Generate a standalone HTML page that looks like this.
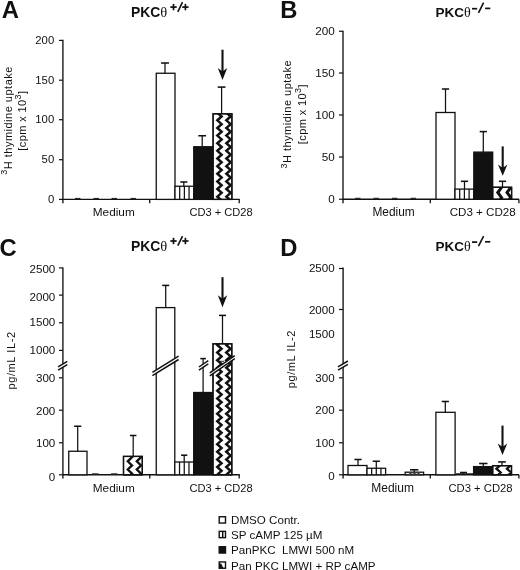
<!DOCTYPE html>
<html><head><meta charset="utf-8"><title>Figure</title>
<style>
html,body{margin:0;padding:0;background:#fff;}
body{width:520px;height:570px;overflow:hidden;}
svg{display:block;font-family:'Liberation Sans',sans-serif;will-change:transform;filter:grayscale(1);}
svg text{font-family:'Liberation Sans',sans-serif;}
</style></head>
<body>
<svg width="520" height="570" viewBox="0 0 520 570">
<defs>
<clipPath id="c1"><rect x="213.10" y="113.80" width="18.80" height="85.60"/></clipPath>
<clipPath id="c2"><rect x="492.70" y="187.30" width="18.90" height="11.95"/></clipPath>
<clipPath id="c3"><rect x="123.50" y="456.40" width="18.80" height="18.40"/></clipPath>
<clipPath id="c4"><rect x="213.00" y="343.80" width="18.80" height="131.00"/></clipPath>
<clipPath id="c5"><rect x="492.70" y="465.70" width="18.80" height="9.10"/></clipPath>
</defs>
<rect x="0" y="0" width="520" height="570" fill="#fff"/>
<text x="1.7" y="17.6" font-size="23.8" text-anchor="start" font-weight="bold" fill="#111" >A</text>
<text x="130.9" y="16.9" font-size="13.9" font-weight="bold" fill="#111">PKC<tspan font-family="Liberation Serif" font-weight="normal" font-size="14.5">θ</tspan></text>
<line x1="170.30" y1="7.10" x2="176.70" y2="7.10" stroke="#111" stroke-width="1.7" stroke-linecap="butt"/>
<line x1="173.50" y1="3.90" x2="173.50" y2="10.30" stroke="#111" stroke-width="1.7" stroke-linecap="butt"/>
<line x1="182.20" y1="7.10" x2="188.60" y2="7.10" stroke="#111" stroke-width="1.7" stroke-linecap="butt"/>
<line x1="185.40" y1="3.90" x2="185.40" y2="10.30" stroke="#111" stroke-width="1.7" stroke-linecap="butt"/>
<line x1="177.80" y1="11.80" x2="182.50" y2="2.20" stroke="#111" stroke-width="1.6" stroke-linecap="butt"/>
<line x1="62.9" y1="39.8" x2="62.9" y2="203.3" stroke="#111" stroke-width="1.35" stroke-linecap="butt"/>
<line x1="59.0" y1="40.4" x2="62.9" y2="40.4" stroke="#111" stroke-width="1.2" stroke-linecap="butt"/>
<text x="54.2" y="43.90" font-size="11.3" text-anchor="end" font-weight="normal" fill="#111" >200</text>
<line x1="59.0" y1="80.2" x2="62.9" y2="80.2" stroke="#111" stroke-width="1.2" stroke-linecap="butt"/>
<text x="54.2" y="83.70" font-size="11.3" text-anchor="end" font-weight="normal" fill="#111" >150</text>
<line x1="59.0" y1="119.7" x2="62.9" y2="119.7" stroke="#111" stroke-width="1.2" stroke-linecap="butt"/>
<text x="54.2" y="123.20" font-size="11.3" text-anchor="end" font-weight="normal" fill="#111" >100</text>
<line x1="59.0" y1="159.7" x2="62.9" y2="159.7" stroke="#111" stroke-width="1.2" stroke-linecap="butt"/>
<text x="54.2" y="163.20" font-size="11.3" text-anchor="end" font-weight="normal" fill="#111" >50</text>
<line x1="59.0" y1="199.4" x2="62.9" y2="199.4" stroke="#111" stroke-width="1.2" stroke-linecap="butt"/>
<text x="54.2" y="202.90" font-size="11.3" text-anchor="end" font-weight="normal" fill="#111" >0</text>
<line x1="62.9" y1="199.4" x2="239.8" y2="199.4" stroke="#111" stroke-width="1.4" stroke-linecap="butt"/>
<line x1="149.7" y1="199.4" x2="149.7" y2="203.3" stroke="#111" stroke-width="1.3" stroke-linecap="butt"/>
<line x1="239.2" y1="199.4" x2="239.2" y2="203.3" stroke="#111" stroke-width="1.3" stroke-linecap="butt"/>
<text transform="translate(11.8,174.8) rotate(-90)" font-size="11.0" letter-spacing="0.5" fill="#111"><tspan font-size="9" dy="-4.7">3</tspan><tspan dy="4.7">H thymidine uptake</tspan></text>
<text transform="translate(25.5,150.7) rotate(-90)" font-size="11.0" letter-spacing="0.4" fill="#111">[cpm x 10<tspan font-size="9" dy="-4.7">3</tspan><tspan dy="4.7">]</tspan></text>
<line x1="75" y1="198.5" x2="80.5" y2="198.5" stroke="#2a2a2a" stroke-width="1.2" stroke-linecap="butt"/>
<line x1="93.5" y1="198.5" x2="99.0" y2="198.5" stroke="#2a2a2a" stroke-width="1.2" stroke-linecap="butt"/>
<line x1="111.5" y1="198.5" x2="117.0" y2="198.5" stroke="#2a2a2a" stroke-width="1.2" stroke-linecap="butt"/>
<line x1="130.5" y1="198.5" x2="136.0" y2="198.5" stroke="#2a2a2a" stroke-width="1.2" stroke-linecap="butt"/>
<rect x="156.25" y="73.25" width="18.75" height="126.15" fill="#fff" stroke="#111" stroke-width="1.3"/>
<line x1="165.0" y1="63.0" x2="165.0" y2="73.25" stroke="#111" stroke-width="1.25" stroke-linecap="butt"/>
<line x1="161.05" y1="63.0" x2="168.95" y2="63.0" stroke="#111" stroke-width="1.55" stroke-linecap="butt"/>
<rect x="175.00" y="186.25" width="18.75" height="13.15" fill="#fff" stroke="#111" stroke-width="1.3"/>
<line x1="179.69" y1="186.25" x2="179.69" y2="199.4" stroke="#111" stroke-width="1.25" stroke-linecap="butt"/>
<line x1="184.38" y1="186.25" x2="184.38" y2="199.4" stroke="#111" stroke-width="1.25" stroke-linecap="butt"/>
<line x1="189.06" y1="186.25" x2="189.06" y2="199.4" stroke="#111" stroke-width="1.25" stroke-linecap="butt"/>
<line x1="183.8" y1="182" x2="183.8" y2="186.25" stroke="#111" stroke-width="1.25" stroke-linecap="butt"/>
<line x1="180.3" y1="182" x2="187.3" y2="182" stroke="#111" stroke-width="1.55" stroke-linecap="butt"/>
<rect x="193.75" y="146.75" width="19.35" height="52.65" fill="#111" stroke="#111" stroke-width="1.3"/>
<line x1="202.2" y1="135.75" x2="202.2" y2="146.75" stroke="#111" stroke-width="1.25" stroke-linecap="butt"/>
<line x1="198.29999999999998" y1="135.75" x2="206.1" y2="135.75" stroke="#111" stroke-width="1.55" stroke-linecap="butt"/>
<rect x="213.10" y="113.80" width="18.80" height="85.60" fill="#fff" stroke="#111" stroke-width="1.3"/>
<polyline clip-path="url(#c1)" points="217.34,211.91 221.64,208.09 217.34,204.28 221.64,200.47 217.34,196.65 221.64,192.84 217.34,189.02 221.64,185.21 217.34,181.39 221.64,177.58 217.34,173.76 221.64,169.95 217.34,166.13 221.64,162.32 217.34,158.50 221.64,154.69 217.34,150.87 221.64,147.06 217.34,143.24 221.64,139.43 217.34,135.61 221.64,131.80 217.34,127.98 221.64,124.17 217.34,120.35 221.64,116.54 217.34,112.72 221.64,108.91" fill="none" stroke="#111" stroke-width="2.5" stroke-linejoin="miter"/>
<polyline clip-path="url(#c1)" points="226.37,211.91 230.67,208.09 226.37,204.28 230.67,200.47 226.37,196.65 230.67,192.84 226.37,189.02 230.67,185.21 226.37,181.39 230.67,177.58 226.37,173.76 230.67,169.95 226.37,166.13 230.67,162.32 226.37,158.50 230.67,154.69 226.37,150.87 230.67,147.06 226.37,143.24 230.67,139.43 226.37,135.61 230.67,131.80 226.37,127.98 230.67,124.17 226.37,120.35 230.67,116.54 226.37,112.72 230.67,108.91" fill="none" stroke="#111" stroke-width="2.5" stroke-linejoin="miter"/>
<rect x="213.10" y="113.80" width="18.80" height="85.60" fill="none" stroke="#111" stroke-width="1.3"/>
<line x1="221.6" y1="87.1" x2="221.6" y2="113.75" stroke="#111" stroke-width="1.25" stroke-linecap="butt"/>
<line x1="217.7" y1="87.1" x2="225.5" y2="87.1" stroke="#111" stroke-width="1.55" stroke-linecap="butt"/>
<line x1="222.5" y1="49.7" x2="222.5" y2="72.0" stroke="#111" stroke-width="2.1" stroke-linecap="butt"/>
<path d="M217.8,68.0 L221.5,70.8 L223.5,70.8 L227.2,68.0 L222.5,80.1 Z" fill="#111"/>
<text x="113.75" y="215.6" font-size="11.8" text-anchor="middle" font-weight="normal" fill="#111" >Medium</text>
<text x="221.1" y="215.6" font-size="11.1" text-anchor="middle" font-weight="normal" fill="#111" >CD3 + CD28</text>
<text x="280.3" y="17.8" font-size="23.8" text-anchor="start" font-weight="bold" fill="#111" >B</text>
<text x="435.4" y="17.3" font-size="13.5" font-weight="bold" fill="#111">PKC<tspan font-family="Liberation Serif" font-weight="normal" font-size="14.1">θ</tspan></text>
<line x1="472.00" y1="8.70" x2="477.20" y2="8.70" stroke="#111" stroke-width="1.7" stroke-linecap="butt"/>
<line x1="485.10" y1="8.40" x2="490.30" y2="8.40" stroke="#111" stroke-width="1.7" stroke-linecap="butt"/>
<line x1="478.50" y1="12.80" x2="483.60" y2="2.70" stroke="#111" stroke-width="1.6" stroke-linecap="butt"/>
<line x1="343.0" y1="30.7" x2="343.0" y2="203.3" stroke="#111" stroke-width="1.35" stroke-linecap="butt"/>
<line x1="339.0" y1="31.25" x2="343.0" y2="31.25" stroke="#111" stroke-width="1.2" stroke-linecap="butt"/>
<text x="334.8" y="35.15" font-size="11.7" text-anchor="end" font-weight="normal" fill="#111" >200</text>
<line x1="339.0" y1="73" x2="343.0" y2="73" stroke="#111" stroke-width="1.2" stroke-linecap="butt"/>
<text x="334.8" y="76.90" font-size="11.7" text-anchor="end" font-weight="normal" fill="#111" >150</text>
<line x1="339.0" y1="115" x2="343.0" y2="115" stroke="#111" stroke-width="1.2" stroke-linecap="butt"/>
<text x="334.8" y="118.90" font-size="11.7" text-anchor="end" font-weight="normal" fill="#111" >100</text>
<line x1="339.0" y1="157" x2="343.0" y2="157" stroke="#111" stroke-width="1.2" stroke-linecap="butt"/>
<text x="334.8" y="160.90" font-size="11.7" text-anchor="end" font-weight="normal" fill="#111" >50</text>
<line x1="339.0" y1="199.25" x2="343.0" y2="199.25" stroke="#111" stroke-width="1.2" stroke-linecap="butt"/>
<text x="334.8" y="203.15" font-size="11.7" text-anchor="end" font-weight="normal" fill="#111" >0</text>
<line x1="343.0" y1="199.25" x2="519" y2="199.25" stroke="#111" stroke-width="1.4" stroke-linecap="butt"/>
<line x1="430.3" y1="199.25" x2="430.3" y2="203.3" stroke="#111" stroke-width="1.3" stroke-linecap="butt"/>
<line x1="518.9" y1="199.25" x2="518.9" y2="203.3" stroke="#111" stroke-width="1.3" stroke-linecap="butt"/>
<text transform="translate(291.2,168.6) rotate(-90)" font-size="11.0" letter-spacing="0.5" fill="#111"><tspan font-size="9" dy="-4.7">3</tspan><tspan dy="4.7">H thymidine uptake</tspan></text>
<text transform="translate(305.5,144.2) rotate(-90)" font-size="11.0" letter-spacing="0.4" fill="#111">[cpm x 10<tspan font-size="9" dy="-4.7">3</tspan><tspan dy="4.7">]</tspan></text>
<line x1="355" y1="198.35" x2="360.5" y2="198.35" stroke="#2a2a2a" stroke-width="1.2" stroke-linecap="butt"/>
<line x1="373.5" y1="198.35" x2="379.0" y2="198.35" stroke="#2a2a2a" stroke-width="1.2" stroke-linecap="butt"/>
<line x1="392" y1="198.35" x2="397.5" y2="198.35" stroke="#2a2a2a" stroke-width="1.2" stroke-linecap="butt"/>
<line x1="410.5" y1="198.35" x2="416.0" y2="198.35" stroke="#2a2a2a" stroke-width="1.2" stroke-linecap="butt"/>
<rect x="436.00" y="112.50" width="19.00" height="86.75" fill="#fff" stroke="#111" stroke-width="1.3"/>
<line x1="445.5" y1="89" x2="445.5" y2="112.5" stroke="#111" stroke-width="1.25" stroke-linecap="butt"/>
<line x1="441.9" y1="89" x2="449.1" y2="89" stroke="#111" stroke-width="1.55" stroke-linecap="butt"/>
<rect x="455.00" y="189.10" width="18.80" height="10.15" fill="#fff" stroke="#111" stroke-width="1.3"/>
<line x1="459.70" y1="189.10" x2="459.70" y2="199.25" stroke="#111" stroke-width="1.25" stroke-linecap="butt"/>
<line x1="464.40" y1="189.10" x2="464.40" y2="199.25" stroke="#111" stroke-width="1.25" stroke-linecap="butt"/>
<line x1="469.10" y1="189.10" x2="469.10" y2="199.25" stroke="#111" stroke-width="1.25" stroke-linecap="butt"/>
<line x1="464.5" y1="181.3" x2="464.5" y2="189.1" stroke="#111" stroke-width="1.25" stroke-linecap="butt"/>
<line x1="460.9" y1="181.3" x2="468.1" y2="181.3" stroke="#111" stroke-width="1.55" stroke-linecap="butt"/>
<rect x="473.80" y="152.10" width="18.90" height="47.15" fill="#111" stroke="#111" stroke-width="1.3"/>
<line x1="483.3" y1="131.6" x2="483.3" y2="152.1" stroke="#111" stroke-width="1.25" stroke-linecap="butt"/>
<line x1="479.7" y1="131.6" x2="486.90000000000003" y2="131.6" stroke="#111" stroke-width="1.55" stroke-linecap="butt"/>
<rect x="492.70" y="187.30" width="18.90" height="11.95" fill="#fff" stroke="#111" stroke-width="1.3"/>
<polyline clip-path="url(#c2)" points="497.79,213.30 501.59,208.10 497.79,202.90 501.59,197.70 497.79,192.50 501.59,187.30 497.79,182.10 501.59,176.90" fill="none" stroke="#111" stroke-width="3.0" stroke-linejoin="miter"/>
<polyline clip-path="url(#c2)" points="507.05,213.30 510.85,208.10 507.05,202.90 510.85,197.70 507.05,192.50 510.85,187.30 507.05,182.10 510.85,176.90" fill="none" stroke="#111" stroke-width="3.0" stroke-linejoin="miter"/>
<rect x="492.70" y="187.30" width="18.90" height="11.95" fill="none" stroke="#111" stroke-width="1.3"/>
<line x1="502.5" y1="181.3" x2="502.5" y2="187.2" stroke="#111" stroke-width="1.25" stroke-linecap="butt"/>
<line x1="498.9" y1="181.3" x2="506.1" y2="181.3" stroke="#111" stroke-width="1.55" stroke-linecap="butt"/>
<line x1="502.7" y1="146.4" x2="502.7" y2="168.4" stroke="#111" stroke-width="2.1" stroke-linecap="butt"/>
<path d="M498.0,164.4 L501.7,167.20000000000002 L503.7,167.20000000000002 L507.4,164.4 L502.7,175.8 Z" fill="#111"/>
<text x="393.6" y="215.6" font-size="11.9" text-anchor="middle" font-weight="normal" fill="#111" >Medium</text>
<text x="482.7" y="215.6" font-size="11.6" text-anchor="middle" font-weight="normal" fill="#111" >CD3 + CD28</text>
<text x="-0.5" y="256" font-size="23.8" text-anchor="start" font-weight="bold" fill="#111" >C</text>
<text x="130.9" y="250.8" font-size="13.9" font-weight="bold" fill="#111">PKC<tspan font-family="Liberation Serif" font-weight="normal" font-size="14.5">θ</tspan></text>
<line x1="170.30" y1="241.00" x2="176.70" y2="241.00" stroke="#111" stroke-width="1.7" stroke-linecap="butt"/>
<line x1="173.50" y1="237.80" x2="173.50" y2="244.20" stroke="#111" stroke-width="1.7" stroke-linecap="butt"/>
<line x1="182.20" y1="241.00" x2="188.60" y2="241.00" stroke="#111" stroke-width="1.7" stroke-linecap="butt"/>
<line x1="185.40" y1="237.80" x2="185.40" y2="244.20" stroke="#111" stroke-width="1.7" stroke-linecap="butt"/>
<line x1="177.80" y1="245.70" x2="182.50" y2="236.10" stroke="#111" stroke-width="1.6" stroke-linecap="butt"/>
<line x1="62.9" y1="267.4" x2="62.9" y2="478.5" stroke="#111" stroke-width="1.35" stroke-linecap="butt"/>
<line x1="59.0" y1="267.9" x2="62.9" y2="267.9" stroke="#111" stroke-width="1.2" stroke-linecap="butt"/>
<text x="55.3" y="272.50" font-size="11.6" text-anchor="end" font-weight="normal" fill="#111" >2500</text>
<line x1="59.0" y1="295.1" x2="62.9" y2="295.1" stroke="#111" stroke-width="1.2" stroke-linecap="butt"/>
<text x="55.3" y="301.40" font-size="11.6" text-anchor="end" font-weight="normal" fill="#111" >2000</text>
<line x1="59.0" y1="322.8" x2="62.9" y2="322.8" stroke="#111" stroke-width="1.2" stroke-linecap="butt"/>
<text x="55.3" y="325.50" font-size="11.6" text-anchor="end" font-weight="normal" fill="#111" >1500</text>
<line x1="59.0" y1="350.4" x2="62.9" y2="350.4" stroke="#111" stroke-width="1.2" stroke-linecap="butt"/>
<text x="55.3" y="353.60" font-size="11.6" text-anchor="end" font-weight="normal" fill="#111" >1000</text>
<line x1="59.0" y1="377.8" x2="62.9" y2="377.8" stroke="#111" stroke-width="1.2" stroke-linecap="butt"/>
<text x="55.3" y="381.90" font-size="11.6" text-anchor="end" font-weight="normal" fill="#111" >300</text>
<line x1="59.0" y1="410.2" x2="62.9" y2="410.2" stroke="#111" stroke-width="1.2" stroke-linecap="butt"/>
<text x="55.3" y="414.60" font-size="11.6" text-anchor="end" font-weight="normal" fill="#111" >200</text>
<line x1="59.0" y1="442.8" x2="62.9" y2="442.8" stroke="#111" stroke-width="1.2" stroke-linecap="butt"/>
<text x="55.3" y="447.00" font-size="11.6" text-anchor="end" font-weight="normal" fill="#111" >100</text>
<line x1="59.0" y1="474.8" x2="62.9" y2="474.8" stroke="#111" stroke-width="1.2" stroke-linecap="butt"/>
<text x="55.3" y="480.50" font-size="11.6" text-anchor="end" font-weight="normal" fill="#111" >0</text>
<line x1="62.9" y1="474.8" x2="239.8" y2="474.8" stroke="#111" stroke-width="1.4" stroke-linecap="butt"/>
<line x1="149.8" y1="474.8" x2="149.8" y2="478.5" stroke="#111" stroke-width="1.3" stroke-linecap="butt"/>
<line x1="239.2" y1="474.8" x2="239.2" y2="478.5" stroke="#111" stroke-width="1.3" stroke-linecap="butt"/>
<text transform="translate(14.6,389.5) rotate(-90)" font-size="11.0" letter-spacing="0.6" fill="#111">pg/mL IL-2</text>
<rect x="68.75" y="451.25" width="18.25" height="23.55" fill="#fff" stroke="#111" stroke-width="1.3"/>
<line x1="77.7" y1="426.25" x2="77.7" y2="451.25" stroke="#111" stroke-width="1.25" stroke-linecap="butt"/>
<line x1="74.10000000000001" y1="426.25" x2="81.3" y2="426.25" stroke="#111" stroke-width="1.55" stroke-linecap="butt"/>
<line x1="92" y1="473.90000000000003" x2="98.5" y2="473.90000000000003" stroke="#2a2a2a" stroke-width="1.2" stroke-linecap="butt"/>
<line x1="111" y1="473.90000000000003" x2="117.5" y2="473.90000000000003" stroke="#2a2a2a" stroke-width="1.2" stroke-linecap="butt"/>
<rect x="123.50" y="456.40" width="18.80" height="18.40" fill="#fff" stroke="#111" stroke-width="1.3"/>
<polyline clip-path="url(#c3)" points="127.74,485.90 132.04,481.80 127.74,477.70 132.04,473.60 127.74,469.50 132.04,465.40 127.74,461.30 132.04,457.20 127.74,453.10 132.04,449.00" fill="none" stroke="#111" stroke-width="2.3" stroke-linejoin="miter"/>
<polyline clip-path="url(#c3)" points="136.77,485.90 141.07,481.80 136.77,477.70 141.07,473.60 136.77,469.50 141.07,465.40 136.77,461.30 141.07,457.20 136.77,453.10 141.07,449.00" fill="none" stroke="#111" stroke-width="2.3" stroke-linejoin="miter"/>
<rect x="123.50" y="456.40" width="18.80" height="18.40" fill="none" stroke="#111" stroke-width="1.3"/>
<line x1="133.2" y1="435.5" x2="133.2" y2="456.3" stroke="#111" stroke-width="1.25" stroke-linecap="butt"/>
<line x1="129.95" y1="435.5" x2="136.45" y2="435.5" stroke="#111" stroke-width="1.55" stroke-linecap="butt"/>
<rect x="156.25" y="307.60" width="18.55" height="167.20" fill="#fff" stroke="#111" stroke-width="1.3"/>
<line x1="165.7" y1="285.4" x2="165.7" y2="307.6" stroke="#111" stroke-width="1.25" stroke-linecap="butt"/>
<line x1="162.2" y1="285.4" x2="169.2" y2="285.4" stroke="#111" stroke-width="1.55" stroke-linecap="butt"/>
<rect x="174.80" y="462.00" width="18.90" height="12.80" fill="#fff" stroke="#111" stroke-width="1.3"/>
<line x1="179.53" y1="462.00" x2="179.53" y2="474.8" stroke="#111" stroke-width="1.25" stroke-linecap="butt"/>
<line x1="184.25" y1="462.00" x2="184.25" y2="474.8" stroke="#111" stroke-width="1.25" stroke-linecap="butt"/>
<line x1="188.97" y1="462.00" x2="188.97" y2="474.8" stroke="#111" stroke-width="1.25" stroke-linecap="butt"/>
<line x1="184.2" y1="455.2" x2="184.2" y2="462" stroke="#111" stroke-width="1.25" stroke-linecap="butt"/>
<line x1="181.1" y1="455.2" x2="187.29999999999998" y2="455.2" stroke="#111" stroke-width="1.55" stroke-linecap="butt"/>
<rect x="193.70" y="392.50" width="19.30" height="82.30" fill="#111" stroke="#111" stroke-width="1.3"/>
<line x1="203.1" y1="358.6" x2="203.1" y2="392.5" stroke="#111" stroke-width="1.25" stroke-linecap="butt"/>
<line x1="200.29999999999998" y1="358.6" x2="205.9" y2="358.6" stroke="#111" stroke-width="1.55" stroke-linecap="butt"/>
<rect x="213.00" y="343.80" width="18.80" height="131.00" fill="#fff" stroke="#111" stroke-width="1.3"/>
<polyline clip-path="url(#c4)" points="217.24,489.94 221.54,486.13 217.24,482.31 221.54,478.50 217.24,474.68 221.54,470.87 217.24,467.05 221.54,463.24 217.24,459.42 221.54,455.61 217.24,451.79 221.54,447.98 217.24,444.16 221.54,440.35 217.24,436.53 221.54,432.72 217.24,428.90 221.54,425.09 217.24,421.27 221.54,417.46 217.24,413.64 221.54,409.83 217.24,406.01 221.54,402.20 217.24,398.38 221.54,394.57 217.24,390.75 221.54,386.94 217.24,383.12 221.54,379.31 217.24,375.49 221.54,371.68 217.24,367.86 221.54,364.05 217.24,360.23 221.54,356.42 217.24,352.60 221.54,348.79 217.24,344.97 221.54,341.16 217.24,337.34" fill="none" stroke="#111" stroke-width="2.5" stroke-linejoin="miter"/>
<polyline clip-path="url(#c4)" points="226.27,489.94 230.57,486.13 226.27,482.31 230.57,478.50 226.27,474.68 230.57,470.87 226.27,467.05 230.57,463.24 226.27,459.42 230.57,455.61 226.27,451.79 230.57,447.98 226.27,444.16 230.57,440.35 226.27,436.53 230.57,432.72 226.27,428.90 230.57,425.09 226.27,421.27 230.57,417.46 226.27,413.64 230.57,409.83 226.27,406.01 230.57,402.20 226.27,398.38 230.57,394.57 226.27,390.75 230.57,386.94 226.27,383.12 230.57,379.31 226.27,375.49 230.57,371.68 226.27,367.86 230.57,364.05 226.27,360.23 230.57,356.42 226.27,352.60 230.57,348.79 226.27,344.97 230.57,341.16 226.27,337.34" fill="none" stroke="#111" stroke-width="2.5" stroke-linejoin="miter"/>
<rect x="213.00" y="343.80" width="18.80" height="131.00" fill="none" stroke="#111" stroke-width="1.3"/>
<line x1="222.5" y1="315.4" x2="222.5" y2="343.75" stroke="#111" stroke-width="1.25" stroke-linecap="butt"/>
<line x1="219.0" y1="315.4" x2="226.0" y2="315.4" stroke="#111" stroke-width="1.55" stroke-linecap="butt"/>
<line x1="222.5" y1="277.2" x2="222.5" y2="299.3" stroke="#111" stroke-width="2.1" stroke-linecap="butt"/>
<path d="M217.8,295.3 L221.5,298.1 L223.5,298.1 L227.2,295.3 L222.5,307.2 Z" fill="#111"/>
<polygon points="58.1,366.8 67.3,361.3 67.3,364.7 58.1,370.2" fill="#fff"/>
<line x1="58.1" y1="366.8" x2="67.3" y2="361.3" stroke="#111" stroke-width="1.5" stroke-linecap="butt"/>
<line x1="58.1" y1="370.2" x2="67.3" y2="364.7" stroke="#111" stroke-width="1.5" stroke-linecap="butt"/>
<polygon points="152.4,372.3 178.6,356.1 178.6,359.5 152.4,375.7" fill="#fff"/>
<line x1="152.4" y1="372.3" x2="178.6" y2="356.1" stroke="#111" stroke-width="1.5" stroke-linecap="butt"/>
<line x1="152.4" y1="375.7" x2="178.6" y2="359.5" stroke="#111" stroke-width="1.5" stroke-linecap="butt"/>
<polygon points="198.9,367.0 208.3,360.7 208.3,363.8 198.9,370.1" fill="#fff"/>
<line x1="198.9" y1="367.0" x2="208.3" y2="360.7" stroke="#111" stroke-width="1.5" stroke-linecap="butt"/>
<line x1="198.9" y1="370.1" x2="208.3" y2="363.8" stroke="#111" stroke-width="1.5" stroke-linecap="butt"/>
<line x1="219.6" y1="361.3" x2="224" y2="361.3" stroke="#111" stroke-width="0.9" stroke-linecap="butt"/>
<polygon points="209.8,372.9 234.8,355.7 234.8,358.7 209.8,375.9" fill="#fff"/>
<line x1="209.8" y1="372.9" x2="234.8" y2="355.7" stroke="#111" stroke-width="1.5" stroke-linecap="butt"/>
<line x1="209.8" y1="375.9" x2="234.8" y2="358.7" stroke="#111" stroke-width="1.5" stroke-linecap="butt"/>
<text x="113.75" y="491.6" font-size="11.8" text-anchor="middle" font-weight="normal" fill="#111" >Medium</text>
<text x="221.1" y="491.6" font-size="11.1" text-anchor="middle" font-weight="normal" fill="#111" >CD3 + CD28</text>
<text x="280.3" y="255.8" font-size="23.8" text-anchor="start" font-weight="bold" fill="#111" >D</text>
<text x="435.4" y="250.7" font-size="13.5" font-weight="bold" fill="#111">PKC<tspan font-family="Liberation Serif" font-weight="normal" font-size="14.1">θ</tspan></text>
<line x1="472.00" y1="242.10" x2="477.20" y2="242.10" stroke="#111" stroke-width="1.7" stroke-linecap="butt"/>
<line x1="485.10" y1="241.80" x2="490.30" y2="241.80" stroke="#111" stroke-width="1.7" stroke-linecap="butt"/>
<line x1="478.50" y1="246.20" x2="483.60" y2="236.10" stroke="#111" stroke-width="1.6" stroke-linecap="butt"/>
<line x1="343.1" y1="267.4" x2="343.1" y2="478.5" stroke="#111" stroke-width="1.35" stroke-linecap="butt"/>
<line x1="339.0" y1="268.5" x2="343.1" y2="268.5" stroke="#111" stroke-width="1.2" stroke-linecap="butt"/>
<text x="334.7" y="272.10" font-size="11.6" text-anchor="end" font-weight="normal" fill="#111" >2500</text>
<line x1="339.0" y1="309.5" x2="343.1" y2="309.5" stroke="#111" stroke-width="1.2" stroke-linecap="butt"/>
<text x="334.7" y="313.50" font-size="11.6" text-anchor="end" font-weight="normal" fill="#111" >2000</text>
<text x="334.7" y="337.75" font-size="11.6" text-anchor="end" font-weight="normal" fill="#111" >1500</text>
<line x1="339.0" y1="377.8" x2="343.1" y2="377.8" stroke="#111" stroke-width="1.2" stroke-linecap="butt"/>
<text x="334.7" y="381.80" font-size="11.6" text-anchor="end" font-weight="normal" fill="#111" >300</text>
<line x1="339.0" y1="410.2" x2="343.1" y2="410.2" stroke="#111" stroke-width="1.2" stroke-linecap="butt"/>
<text x="334.7" y="414.20" font-size="11.6" text-anchor="end" font-weight="normal" fill="#111" >200</text>
<line x1="339.0" y1="442.8" x2="343.1" y2="442.8" stroke="#111" stroke-width="1.2" stroke-linecap="butt"/>
<text x="334.7" y="446.80" font-size="11.6" text-anchor="end" font-weight="normal" fill="#111" >100</text>
<line x1="339.0" y1="474.8" x2="343.1" y2="474.8" stroke="#111" stroke-width="1.2" stroke-linecap="butt"/>
<text x="334.7" y="480.40" font-size="11.6" text-anchor="end" font-weight="normal" fill="#111" >0</text>
<line x1="343.1" y1="474.8" x2="519" y2="474.8" stroke="#111" stroke-width="1.4" stroke-linecap="butt"/>
<line x1="430.3" y1="474.8" x2="430.3" y2="478.5" stroke="#111" stroke-width="1.3" stroke-linecap="butt"/>
<line x1="518.9" y1="474.8" x2="518.9" y2="478.5" stroke="#111" stroke-width="1.3" stroke-linecap="butt"/>
<text transform="translate(294.5,388.3) rotate(-90)" font-size="11.0" letter-spacing="0.6" fill="#111">pg/mL IL-2</text>
<rect x="348.00" y="465.50" width="19.00" height="9.30" fill="#fff" stroke="#111" stroke-width="1.3"/>
<line x1="358" y1="459.5" x2="358" y2="465.5" stroke="#111" stroke-width="1.25" stroke-linecap="butt"/>
<line x1="354.4" y1="459.5" x2="361.6" y2="459.5" stroke="#111" stroke-width="1.55" stroke-linecap="butt"/>
<rect x="367.00" y="468.25" width="18.60" height="6.55" fill="#fff" stroke="#111" stroke-width="1.3"/>
<line x1="371.65" y1="468.25" x2="371.65" y2="474.8" stroke="#111" stroke-width="1.25" stroke-linecap="butt"/>
<line x1="376.30" y1="468.25" x2="376.30" y2="474.8" stroke="#111" stroke-width="1.25" stroke-linecap="butt"/>
<line x1="380.95" y1="468.25" x2="380.95" y2="474.8" stroke="#111" stroke-width="1.25" stroke-linecap="butt"/>
<line x1="376.3" y1="461.25" x2="376.3" y2="468.25" stroke="#111" stroke-width="1.25" stroke-linecap="butt"/>
<line x1="372.7" y1="461.25" x2="379.90000000000003" y2="461.25" stroke="#111" stroke-width="1.55" stroke-linecap="butt"/>
<rect x="405.20" y="472.20" width="18.40" height="2.60" fill="#fff" stroke="#111" stroke-width="1.3"/>
<line x1="408.9" y1="474.40000000000003" x2="412.1" y2="472.6" stroke="#444" stroke-width="1.3" stroke-linecap="butt"/>
<line x1="412.9" y1="474.40000000000003" x2="416.1" y2="472.6" stroke="#444" stroke-width="1.3" stroke-linecap="butt"/>
<line x1="416.9" y1="474.40000000000003" x2="420.1" y2="472.6" stroke="#444" stroke-width="1.3" stroke-linecap="butt"/>
<line x1="414.2" y1="469.8" x2="414.2" y2="471.9" stroke="#111" stroke-width="1.25" stroke-linecap="butt"/>
<line x1="410.0" y1="469.8" x2="418.4" y2="469.8" stroke="#111" stroke-width="1.55" stroke-linecap="butt"/>
<rect x="435.90" y="412.30" width="19.20" height="62.50" fill="#fff" stroke="#111" stroke-width="1.3"/>
<line x1="445.3" y1="401.5" x2="445.3" y2="412.3" stroke="#111" stroke-width="1.25" stroke-linecap="butt"/>
<line x1="441.7" y1="401.5" x2="448.90000000000003" y2="401.5" stroke="#111" stroke-width="1.55" stroke-linecap="butt"/>
<line x1="456" y1="473.8" x2="473" y2="473.8" stroke="#111" stroke-width="1.0" stroke-linecap="butt"/>
<line x1="463.5" y1="472.5" x2="463.5" y2="473.8" stroke="#111" stroke-width="1.25" stroke-linecap="butt"/>
<line x1="460.0" y1="472.5" x2="467.0" y2="472.5" stroke="#111" stroke-width="1.55" stroke-linecap="butt"/>
<rect x="473.60" y="466.60" width="19.40" height="8.20" fill="#111" stroke="#111" stroke-width="1.3"/>
<line x1="483.3" y1="463.5" x2="483.3" y2="466.6" stroke="#111" stroke-width="1.25" stroke-linecap="butt"/>
<line x1="479.1" y1="463.5" x2="487.5" y2="463.5" stroke="#111" stroke-width="1.55" stroke-linecap="butt"/>
<rect x="492.70" y="465.70" width="18.80" height="9.10" fill="#fff" stroke="#111" stroke-width="1.3"/>
<polyline clip-path="url(#c5)" points="496.38,483.96 500.68,480.14 496.38,476.33 500.68,472.51 496.38,468.70 500.68,464.88 496.38,461.07" fill="none" stroke="#111" stroke-width="2.3" stroke-linejoin="miter"/>
<polyline clip-path="url(#c5)" points="506.91,483.96 511.21,480.14 506.91,476.33 511.21,472.51 506.91,468.70 511.21,464.88 506.91,461.07" fill="none" stroke="#111" stroke-width="2.3" stroke-linejoin="miter"/>
<rect x="492.70" y="465.70" width="18.80" height="9.10" fill="none" stroke="#111" stroke-width="1.3"/>
<line x1="502.0" y1="461.9" x2="502.0" y2="465.7" stroke="#111" stroke-width="1.25" stroke-linecap="butt"/>
<line x1="498.15" y1="461.9" x2="505.85" y2="461.9" stroke="#111" stroke-width="1.55" stroke-linecap="butt"/>
<line x1="502.5" y1="425.6" x2="502.5" y2="447.5" stroke="#111" stroke-width="2.1" stroke-linecap="butt"/>
<path d="M497.8,443.5 L501.5,446.3 L503.5,446.3 L507.2,443.5 L502.5,455.1 Z" fill="#111"/>
<polygon points="338,366.8 347.9,361.0 347.9,364.4 338,370.2" fill="#fff"/>
<line x1="338" y1="366.8" x2="347.9" y2="361.0" stroke="#111" stroke-width="1.5" stroke-linecap="butt"/>
<line x1="338" y1="370.2" x2="347.9" y2="364.4" stroke="#111" stroke-width="1.5" stroke-linecap="butt"/>
<text x="392.6" y="491.6" font-size="12.0" text-anchor="middle" font-weight="normal" fill="#111" >Medium</text>
<text x="480.5" y="491.6" font-size="11.25" text-anchor="middle" font-weight="normal" fill="#111" >CD3 + CD28</text>
<rect x="219.20" y="516.75" width="6.30" height="6.30" fill="#fff" stroke="#111" stroke-width="1.4"/>
<text x="231.1" y="523.9000000000001" font-size="11.6" fill="#111" xml:space="preserve">DMSO Contr.</text>
<rect x="219.20" y="531.35" width="6.30" height="6.30" fill="#fff" stroke="#111" stroke-width="1.4"/>
<line x1="222.7" y1="531.35" x2="222.7" y2="537.65" stroke="#111" stroke-width="1.5" stroke-linecap="butt"/>
<text x="231.1" y="539.0" font-size="11.6" fill="#111" xml:space="preserve">SP cAMP 125 µM</text>
<rect x="219.20" y="546.75" width="6.30" height="6.30" fill="#111" stroke="#111" stroke-width="1.4"/>
<text x="231.1" y="554.0" font-size="11.6" fill="#111" xml:space="preserve">PanPKC  LMWI 500 nM</text>
<rect x="219.20" y="561.95" width="6.30" height="6.30" fill="#fff" stroke="#111" stroke-width="1.4"/>
<path d="M219.2,563.1500000000001 L221.39999999999998,563.75 L223.39999999999998,568.25 L219.2,568.25 Z" fill="#111"/>
<text x="231.1" y="569.6" font-size="11.6" fill="#111" xml:space="preserve">Pan PKC LMWI + RP cAMP</text>
</svg>
</body></html>
